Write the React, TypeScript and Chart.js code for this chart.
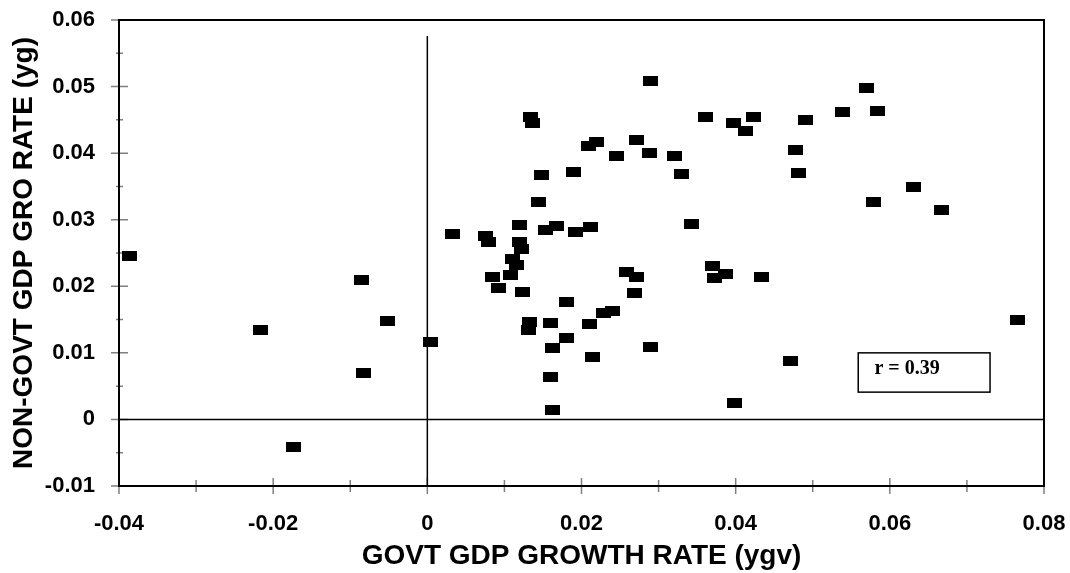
import React, { useEffect, useRef } from 'react';
import { Chart, registerables } from 'chart.js';

Chart.register(...registerables);

// GOVT GDP growth rate (ygv) — x values
const govtGrowth = [
  -0.0386, -0.0085, -0.0052, 0.0004, -0.0083, -0.0216, -0.0174,
  0.0289, 0.0134, 0.0136, 0.0361, 0.0397, 0.0209, 0.0219, 0.0271, 0.0246,
  0.0288, 0.0320, 0.0148, 0.0189, 0.0330, 0.0144, 0.0343, 0.0032, 0.0119,
  0.0153, 0.0168, 0.0192, 0.0212,
  0.0075, 0.0079, 0.0119, 0.0122, 0.0110, 0.0116, 0.0085, 0.0108, 0.0092,
  0.0124, 0.0181, 0.0258, 0.0271, 0.0269, 0.0370, 0.0387, 0.0373, 0.0133,
  0.0131, 0.0160, 0.0211, 0.0229, 0.0240, 0.0180, 0.0162, 0.0214, 0.0289,
  0.0160, 0.0162, 0.0399,
  0.0570, 0.0539, 0.0584, 0.0423, 0.0491, 0.0413, 0.0477, 0.0481, 0.0631,
  0.0579, 0.0667,
  0.0434, 0.0765, 0.0471,
];

// NON-GOVT GDP growth rate (yg) — y values
const nonGovtGrowth = [
  0.0246, 0.0210, 0.0148, 0.0116, 0.0070, 0.0135, -0.0041,
  0.0509, 0.0455, 0.0445, 0.0454, 0.0445, 0.0411, 0.0416, 0.0420, 0.0396,
  0.0400, 0.0396, 0.0367, 0.0371, 0.0369, 0.0327, 0.0294, 0.0279, 0.0292,
  0.0285, 0.0290, 0.0281, 0.0289,
  0.0275, 0.0266, 0.0267, 0.0256, 0.0241, 0.0232, 0.0214, 0.0217, 0.0197,
  0.0192, 0.0177, 0.0222, 0.0214, 0.0190, 0.0231, 0.0218, 0.0213, 0.0146,
  0.0134, 0.0145, 0.0143, 0.0160, 0.0163, 0.0123, 0.0108, 0.0094, 0.0109,
  0.0063, 0.0014, 0.0025,
  0.0498, 0.0462, 0.0463, 0.0455, 0.0450, 0.0434, 0.0405, 0.0370, 0.0349,
  0.0327, 0.0314,
  0.0214, 0.0149, 0.0088,
];

const xMajorTicks = [-0.04, -0.02, 0, 0.02, 0.04, 0.06, 0.08];
const xMinorTicks = [-0.03, -0.01, 0.01, 0.03, 0.05, 0.07];
const yMajorTicks = [-0.01, 0, 0.01, 0.02, 0.03, 0.04, 0.05, 0.06];
const yMinorTicks = [-0.005, 0.005, 0.015, 0.025, 0.035, 0.045, 0.055];

// reference (zero) lines
const hLineX = [-0.04, 0.08];
const hLineY = [0, 0];
const vLineX = [0, 0];
const vLineY = [-0.01, 0.0576];

// correlation annotation
const rLabel = 'r = 0.39';
const rBoxX = [0.0559, 0.073];
const rBoxY = [0.0041, 0.01];
const rTextPos = [0.058, 0.0068];

const xTitle = 'GOVT GDP GROWTH RATE (ygv)';
const yTitle = 'NON-GOVT GDP GRO RATE (yg)';

const SANS = "'Liberation Sans', Arial, sans-serif";
const SERIF = "'Liberation Serif', 'Times New Roman', serif";

const fmt = (v: number) => (Math.abs(v) < 1e-9 ? '0' : String(+v.toFixed(2)));

const zeroPadding = (s: any) => {
  s.paddingTop = 0;
  s.paddingBottom = 0;
  s.paddingLeft = 0;
  s.paddingRight = 0;
};

const framePlugin = {
  id: 'frameTicks',
  beforeDatasetsDraw(chart: any) {
    const { ctx, chartArea: a, scales } = chart;
    const xs = scales.x;
    const ys = scales.y;
    ctx.save();
    ctx.strokeStyle = '#808080';
    ctx.lineWidth = 1.5;
    ctx.beginPath();
    xMajorTicks.forEach((v) => {
      const p = xs.getPixelForValue(v);
      ctx.moveTo(p, a.bottom - 8);
      ctx.lineTo(p, a.bottom + 8);
    });
    xMinorTicks.forEach((v) => {
      const p = xs.getPixelForValue(v);
      ctx.moveTo(p, a.bottom - 6);
      ctx.lineTo(p, a.bottom + 6);
    });
    yMajorTicks.forEach((v) => {
      const p = ys.getPixelForValue(v);
      ctx.moveTo(a.left - 8, p);
      ctx.lineTo(a.left + 9, p);
    });
    yMinorTicks.forEach((v) => {
      const p = ys.getPixelForValue(v);
      ctx.moveTo(a.left - 3, p);
      ctx.lineTo(a.left + 4, p);
    });
    ctx.stroke();
    ctx.strokeStyle = '#000';
    ctx.lineWidth = 2;
    ctx.strokeRect(a.left, a.top, a.right - a.left, a.bottom - a.top);
    ctx.restore();
  },
  afterDatasetsDraw(chart: any) {
    const { ctx, scales } = chart;
    const xs = scales.x;
    const ys = scales.y;
    const x1 = xs.getPixelForValue(rBoxX[0]);
    const x2 = xs.getPixelForValue(rBoxX[1]);
    const y1 = ys.getPixelForValue(rBoxY[1]);
    const y2 = ys.getPixelForValue(rBoxY[0]);
    ctx.save();
    ctx.fillStyle = '#fff';
    ctx.fillRect(x1, y1, x2 - x1, y2 - y1);
    ctx.strokeStyle = '#000';
    ctx.lineWidth = 1.5;
    ctx.strokeRect(x1, y1, x2 - x1, y2 - y1);
    ctx.fillStyle = '#000';
    ctx.font = `bold 20px ${SERIF}`;
    ctx.textAlign = 'left';
    ctx.textBaseline = 'alphabetic';
    ctx.fillText(rLabel, xs.getPixelForValue(rTextPos[0]), ys.getPixelForValue(rTextPos[1]));
    ctx.restore();
  },
};

export default function App() {
  const ref = useRef<HTMLCanvasElement | null>(null);

  useEffect(() => {
    if (!ref.current) return;
    const marker = document.createElement('canvas');
    marker.width = 15;
    marker.height = 10;
    const mctx = marker.getContext('2d')!;
    mctx.fillStyle = '#000';
    mctx.fillRect(0, 0, 15, 10);

    const tickFont = { family: SANS, weight: 'bold' as const, size: 22 };
    const titleFont = { family: SANS, weight: 'bold' as const, size: 28 };

    const chart = new Chart(ref.current, {
      type: 'scatter',
      data: {
        datasets: [
          {
            data: govtGrowth.map((x, i) => ({ x, y: nonGovtGrowth[i] })),
            pointStyle: marker as any,
            pointRadius: 7,
            backgroundColor: '#000',
            borderColor: '#000',
          },
          {
            data: hLineX.map((x, i) => ({ x, y: hLineY[i] })),
            showLine: true,
            pointRadius: 0,
            borderColor: '#000',
            borderWidth: 1.5,
          },
          {
            data: vLineX.map((x, i) => ({ x, y: vLineY[i] })),
            showLine: true,
            pointRadius: 0,
            borderColor: '#000',
            borderWidth: 1.5,
          },
        ],
      },
      options: {
        responsive: false,
        animation: false,
        devicePixelRatio: 1,
        layout: { padding: { top: 20, right: 26, bottom: 0, left: 0 } },
        plugins: { legend: { display: false }, tooltip: { enabled: false } },
        scales: {
          x: {
            type: 'linear',
            min: -0.04,
            max: 0.08,
            afterFit: (s: any) => {
              s.height = 87;
              zeroPadding(s);
            },
            afterBuildTicks: (s: any) => {
              s.ticks = xMajorTicks.map((value) => ({ value }));
            },
            ticks: {
              callback: (v: any) => fmt(Number(v)),
              font: tickFont,
              color: '#000',
              padding: 25,
              autoSkip: false,
              maxRotation: 0,
            },
            grid: { display: false, drawTicks: false },
            border: { display: false },
            title: {
              display: true,
              text: xTitle,
              font: titleFont,
              color: '#000',
              padding: { top: 0, bottom: 0 },
            },
          },
          y: {
            type: 'linear',
            position: 'left',
            min: -0.01,
            max: 0.06,
            afterFit: (s: any) => {
              s.width = 119;
              zeroPadding(s);
            },
            afterBuildTicks: (s: any) => {
              s.ticks = yMajorTicks.map((value) => ({ value }));
            },
            ticks: {
              callback: (v: any) => fmt(Number(v)),
              font: tickFont,
              color: '#000',
              padding: 24,
              autoSkip: false,
            },
            grid: { display: false, drawTicks: false },
            border: { display: false },
            title: {
              display: true,
              text: yTitle,
              font: titleFont,
              color: '#000',
              padding: { top: 7, bottom: 0 },
            },
          },
        },
      },
      plugins: [framePlugin],
    } as any);

    return () => chart.destroy();
  }, []);

  return (
    <div style={{ position: 'absolute', left: 0, top: 0, width: 1070, height: 573, background: '#fff' }}>
      <canvas ref={ref} width={1070} height={573} style={{ display: 'block' }} />
    </div>
  );
}
